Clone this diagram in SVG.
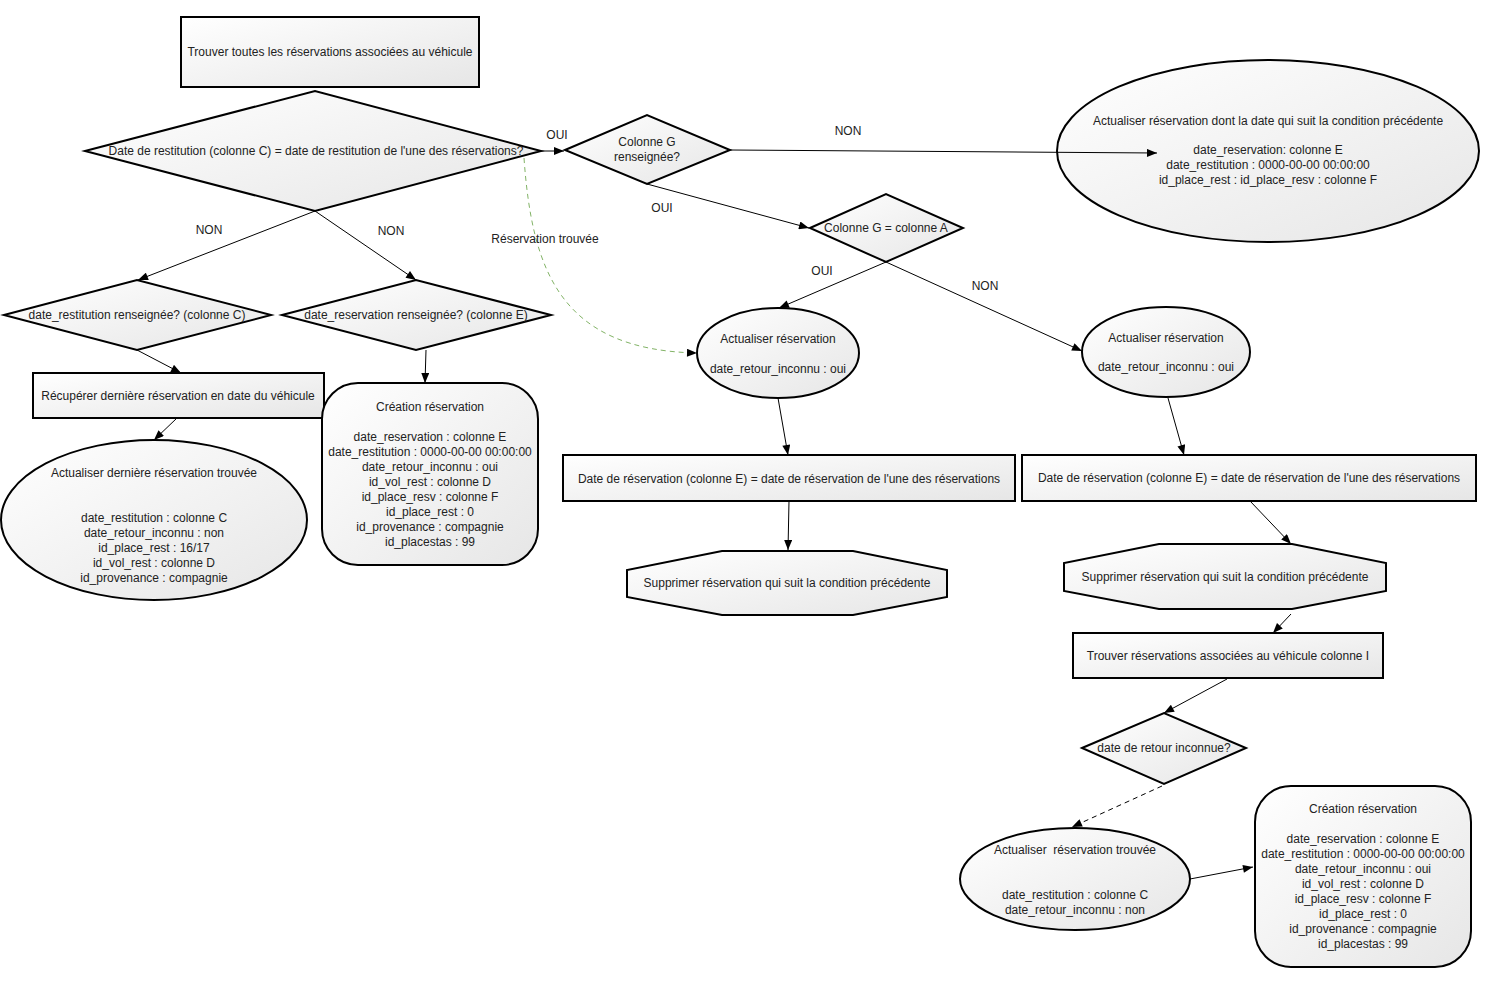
<svg xmlns="http://www.w3.org/2000/svg" width="1500" height="1000" viewBox="0 0 1500 1000">
<defs>
<linearGradient id="g" x1="0" y1="0" x2="1" y2="1">
<stop offset="0" stop-color="#ffffff"/>
<stop offset="1" stop-color="#e6e6e6"/>
</linearGradient>
<marker id="ar" viewBox="0 0 10 8" refX="10" refY="4" markerWidth="11" markerHeight="8" markerUnits="userSpaceOnUse" orient="auto">
<path d="M0,0 L10,4 L0,8 Z" fill="#000"/>
</marker>
</defs>
<style>
.n{fill:url(#g);stroke:#000;stroke-width:2}
.t{font-family:"Liberation Sans",Arial,sans-serif;font-size:12px;fill:#222;text-anchor:middle}
.c{fill:none;stroke:#000;stroke-width:1;marker-end:url(#ar)}
.d{stroke-dasharray:5,4}
.gr{fill:none;stroke:#82b366;stroke-width:1;stroke-dasharray:5,4;marker-end:url(#ar)}
.l{font-family:"Liberation Sans",Arial,sans-serif;font-size:12px;fill:#222;text-anchor:middle}
</style>
<rect width="1500" height="1000" fill="#fff"/>

<g id="n1"><rect class="n" x="181" y="17" width="298" height="70"/>
<text class="t" x="330" y="56">Trouver toutes les réservations associées au véhicule</text></g>

<g id="n2"><polygon class="n" points="85,151 315,91 541,151 315,211"/>
<text class="t" x="316" y="155">Date de restitution (colonne C) = date de restitution de l'une des réservations?</text></g>

<g id="n3"><polygon class="n" points="565,150 647,115 730,150 647,184"/>
<text class="t" x="647" y="146">Colonne G</text>
<text class="t" x="647" y="161">renseignée?</text></g>

<g id="n4"><ellipse class="n" cx="1268" cy="151" rx="211" ry="91"/>
<text class="t" x="1268" y="125">Actualiser réservation dont la date qui suit la condition précédente</text>
<text class="t" x="1268" y="154">date_reservation: colonne E</text>
<text class="t" x="1268" y="169">date_restitution : 0000-00-00 00:00:00</text>
<text class="t" x="1268" y="184">id_place_rest : id_place_resv : colonne F</text></g>

<g id="n5"><polygon class="n" points="810,228 886,194 963,228 886,262"/>
<text class="t" x="886" y="232">Colonne G = colonne A</text></g>

<g id="n6"><ellipse class="n" cx="778" cy="353" rx="81" ry="45"/>
<text class="t" x="778" y="343">Actualiser réservation</text>
<text class="t" x="778" y="373">date_retour_inconnu : oui</text></g>

<g id="n7"><ellipse class="n" cx="1166" cy="352" rx="84" ry="45"/>
<text class="t" x="1166" y="342">Actualiser réservation</text>
<text class="t" x="1166" y="371">date_retour_inconnu : oui</text></g>

<g id="n8"><polygon class="n" points="4,315 137,280 271,315 137,350"/>
<text class="t" x="137" y="319">date_restitution renseignée? (colonne C)</text></g>

<g id="n9"><polygon class="n" points="282,315 416,280 551,315 416,350"/>
<text class="t" x="416" y="319">date_reservation renseignée? (colonne E)</text></g>

<g id="n10"><rect class="n" x="33" y="373" width="291" height="45"/>
<text class="t" x="178" y="400">Récupérer dernière réservation en date du véhicule</text></g>

<g id="n11"><ellipse class="n" cx="154" cy="520" rx="153" ry="80"/>
<text class="t" x="154" y="477">Actualiser dernière réservation trouvée</text>
<text class="t" x="154" y="522">date_restitution : colonne C</text>
<text class="t" x="154" y="537">date_retour_inconnu : non</text>
<text class="t" x="154" y="552">id_place_rest : 16/17</text>
<text class="t" x="154" y="567">id_vol_rest : colonne D</text>
<text class="t" x="154" y="582">id_provenance : compagnie</text></g>

<g id="n12"><rect class="n" x="322" y="383" width="216" height="182" rx="36" ry="36"/>
<text class="t" x="430" y="411">Création réservation</text>
<text class="t" x="430" y="441">date_reservation : colonne E</text>
<text class="t" x="430" y="456">date_restitution : 0000-00-00 00:00:00</text>
<text class="t" x="430" y="471">date_retour_inconnu : oui</text>
<text class="t" x="430" y="486">id_vol_rest : colonne D</text>
<text class="t" x="430" y="501">id_place_resv : colonne F</text>
<text class="t" x="430" y="516">id_place_rest : 0</text>
<text class="t" x="430" y="531">id_provenance : compagnie</text>
<text class="t" x="430" y="546">id_placestas : 99</text></g>

<g id="n13"><rect class="n" x="563" y="455" width="452" height="46"/>
<text class="t" x="789" y="483">Date de réservation (colonne E) = date de réservation de l'une des réservations</text></g>

<g id="n14"><polygon class="n" points="722,551 853,551 947,570 947,597 853,615 722,615 627,597 627,570"/>
<text class="t" x="787" y="587">Supprimer réservation qui suit la condition précédente</text></g>

<g id="n15"><rect class="n" x="1022" y="455" width="454" height="46"/>
<text class="t" x="1249" y="482">Date de réservation (colonne E) = date de réservation de l'une des réservations</text></g>

<g id="n16"><polygon class="n" points="1159,544 1292,544 1386,563 1386,591 1292,609 1159,609 1064,591 1064,563"/>
<text class="t" x="1225" y="581">Supprimer réservation qui suit la condition précédente</text></g>

<g id="n17"><rect class="n" x="1073" y="633" width="310" height="45"/>
<text class="t" x="1228" y="660">Trouver réservations associées au véhicule colonne I</text></g>

<g id="n18"><polygon class="n" points="1082,748 1164,713 1246,748 1164,784"/>
<text class="t" x="1164" y="752">date de retour inconnue?</text></g>

<g id="n19"><ellipse class="n" cx="1075" cy="879" rx="115" ry="51"/>
<text class="t" x="1075" y="854" xml:space="preserve">Actualiser  réservation trouvée</text>
<text class="t" x="1075" y="899">date_restitution : colonne C</text>
<text class="t" x="1075" y="914">date_retour_inconnu : non</text></g>

<g id="n20"><rect class="n" x="1255" y="786" width="216" height="181" rx="36" ry="36"/>
<text class="t" x="1363" y="813">Création réservation</text>
<text class="t" x="1363" y="843">date_reservation : colonne E</text>
<text class="t" x="1363" y="858">date_restitution : 0000-00-00 00:00:00</text>
<text class="t" x="1363" y="873">date_retour_inconnu : oui</text>
<text class="t" x="1363" y="888">id_vol_rest : colonne D</text>
<text class="t" x="1363" y="903">id_place_resv : colonne F</text>
<text class="t" x="1363" y="918">id_place_rest : 0</text>
<text class="t" x="1363" y="933">id_provenance : compagnie</text>
<text class="t" x="1363" y="948">id_placestas : 99</text></g>

<g id="connectors">
<line class="c" x1="541" y1="151" x2="564" y2="151"/>
<line class="c" x1="730" y1="150" x2="1157" y2="153"/>
<line class="c" x1="647" y1="184" x2="809" y2="228"/>
<line class="c" x1="886" y1="262" x2="779" y2="308"/>
<line class="c" x1="886" y1="262" x2="1082" y2="351"/>
<path class="gr" d="M524,158 C532,270 560,350 697,353"/>
<line class="c" x1="315" y1="211" x2="138" y2="280"/>
<line class="c" x1="315" y1="211" x2="416" y2="280"/>
<line class="c" x1="137" y1="350" x2="181" y2="373"/>
<line class="c" x1="426" y1="350" x2="425" y2="383"/>
<line class="c" x1="177" y1="418" x2="154" y2="440"/>
<line class="c" x1="778" y1="398" x2="788" y2="455"/>
<line class="c" x1="789" y1="501" x2="788" y2="550"/>
<line class="c" x1="1168" y1="398" x2="1184" y2="455"/>
<line class="c" x1="1250" y1="501" x2="1291" y2="544"/>
<line class="c" x1="1291" y1="614" x2="1273" y2="633"/>
<line class="c" x1="1227" y1="679" x2="1164" y2="713"/>
<line class="c d" x1="1162" y1="786" x2="1072" y2="827"/>
<line class="c" x1="1190" y1="879" x2="1253" y2="867"/>
<text class="l" x="557" y="139">OUI</text>
<text class="l" x="848" y="135">NON</text>
<text class="l" x="662" y="212">OUI</text>
<text class="l" x="822" y="275">OUI</text>
<text class="l" x="985" y="290">NON</text>
<text class="l" x="545" y="243">Réservation trouvée</text>
<text class="l" x="209" y="234">NON</text>
<text class="l" x="391" y="235">NON</text>
</g>
</svg>
